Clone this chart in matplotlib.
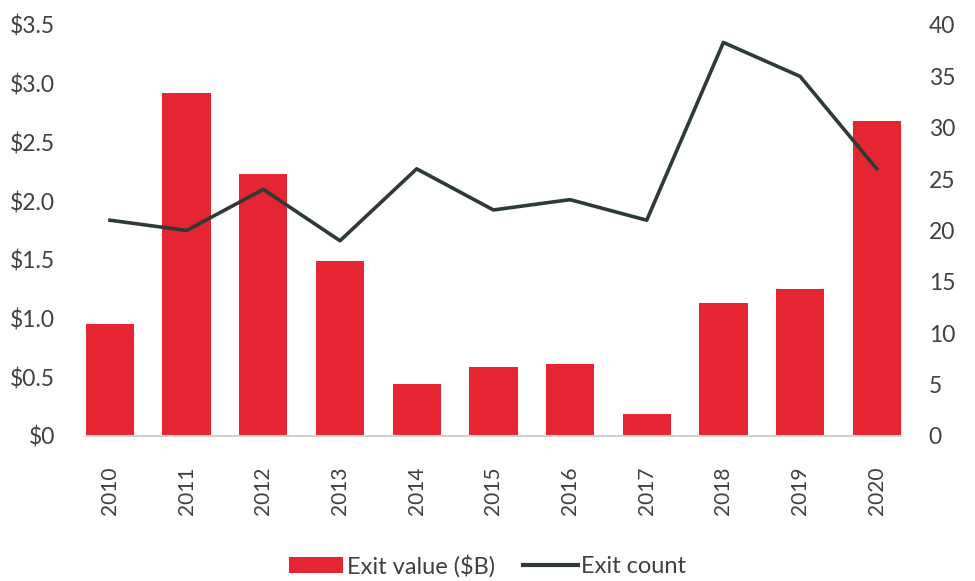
import matplotlib.pyplot as plt
import numpy as np

# data
years = ["2010", "2011", "2012", "2013", "2014", "2015",
         "2016", "2017", "2018", "2019", "2020"]
exit_value = [0.95, 2.92, 2.23, 1.49, 0.44, 0.585, 0.61, 0.185, 1.135, 1.255, 2.68]
exit_count = [21, 20, 24, 19, 26, 22, 23, 21, 38.3, 35, 26]

left_ticks = [0, 0.5, 1.0, 1.5, 2.0, 2.5, 3.0, 3.5]
left_labels = ["$0", "$0.5", "$1.0", "$1.5", "$2.0", "$2.5", "$3.0", "$3.5"]
right_ticks = [0, 5, 10, 15, 20, 25, 30, 35, 40]

red = "#E52632"
dark = "#2E3A36"
txt = "#404040"

plt.rcParams['font.family'] = ['Lato', 'DejaVu Sans']

fig = plt.figure(figsize=(9.75, 5.81), dpi=100)
ax = fig.add_axes([0.088, 0.2496, 0.836, 0.7074])
ax2 = ax.twinx()

x = np.arange(len(years))
ax.bar(x, exit_value, width=0.63, color=red, zorder=2, label="Exit value ($B)")
ax2.plot(x, exit_count, color=dark, lw=2.6, zorder=3, label="Exit count")

ax.set_xlim(-0.315, len(years) - 1 + 0.315)
ax.set_ylim(0, 3.5)
ax2.set_ylim(0, 40)

ax.set_xticks(x)
ax.set_xticklabels(years, rotation=90, fontsize=15, color=txt)
ax.set_yticks(left_ticks)
ax.set_yticklabels(left_labels, fontsize=16.5, color=txt)
ax2.set_yticks(right_ticks)
ax2.set_yticklabels([str(t) for t in right_ticks], fontsize=16.5, color=txt)

ax.tick_params(axis='x', length=0, pad=22)
ax.tick_params(axis='y', length=0, pad=22)
ax2.tick_params(axis='y', length=0, pad=20)

for a in (ax, ax2):
    for s in a.spines.values():
        s.set_visible(False)
ax.spines['bottom'].set_visible(True)
ax.spines['bottom'].set_color("#D0D0D0")
ax.spines['bottom'].set_linewidth(1.5)

h1, l1 = ax.get_legend_handles_labels()
h2, l2 = ax2.get_legend_handles_labels()
leg = fig.legend(h1 + h2, l1 + l2, loc='center', bbox_to_anchor=(0.5, 0.026),
                 ncol=2, frameon=False, fontsize=17, handlelength=2.3,
                 handletextpad=0.15, columnspacing=1.2)
for t in leg.get_texts():
    t.set_color(txt)
leg.get_lines()[0].set_linewidth(3)

fig.savefig("out.png", dpi=100)
